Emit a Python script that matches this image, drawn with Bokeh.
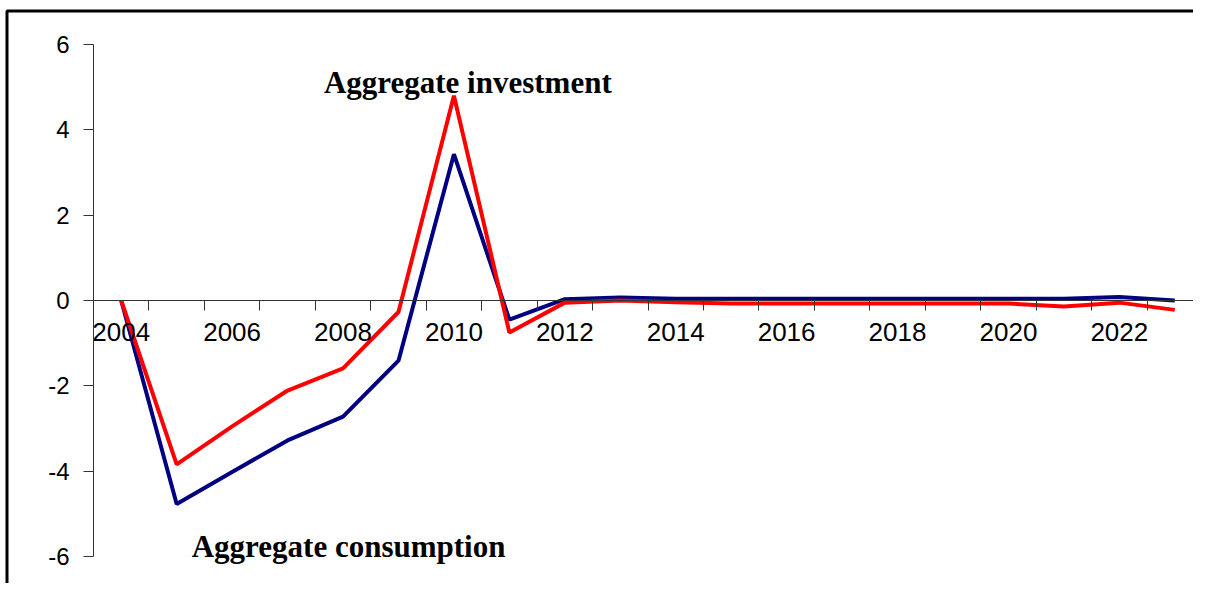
from bokeh.plotting import figure
from bokeh.models import Range1d, LinearAxis, FixedTicker, Label, BoxAnnotation, CustomJSTickFormatter
from bokeh.embed import file_html
from bokeh.resources import INLINE

# ---- data ----
years = list(range(2004, 2024))
investment = [0.0, -3.84, -2.95, -2.11, -1.59, -0.27, 4.80, -0.75, -0.05, 0.0,
              -0.04, -0.07, -0.07, -0.07, -0.07, -0.07, -0.07, -0.14, -0.05, -0.22]
consumption = [0.0, -4.77, -4.02, -3.28, -2.72, -1.41, 3.43, -0.45, 0.03, 0.07,
               0.04, 0.04, 0.04, 0.04, 0.04, 0.04, 0.04, 0.04, 0.08, 0.0]
y_ticks = [-6, -4, -2, 0, 2, 4, 6]
x_label_years = [2004, 2006, 2008, 2010, 2012, 2014, 2016, 2018, 2020, 2022]
series_names = ["Aggregate investment", "Aggregate consumption"]

# ---- layout (pixels, relative to the figure's top-left corner) ----
W, H = 1193, 583
AX_L, AX_R, AX_T, AX_B = 93, 1202, 44, 556      # extent of the axes
x_lo, x_hi = years[0] - 0.5, years[-1] + 0.5
y_lo, y_hi = y_ticks[0], y_ticks[-1]
px_x = (AX_R - AX_L) / (x_hi - x_lo)
px_y = (AX_B - AX_T) / (y_hi - y_lo)
x_start = x_lo - AX_L / px_x
x_end = x_start + W / px_x
y_end = y_hi + AX_T / px_y
y_start = y_end - H / px_y

x_boundaries = [y - 0.5 for y in years] + [years[-1] + 0.5]

p = figure(width=W, height=H, output_backend="svg", toolbar_location=None,
           x_range=Range1d(x_start, x_end), y_range=Range1d(y_start, y_end),
           x_axis_location=None, y_axis_location=None,
           min_border=0, min_border_left=0, min_border_right=0,
           min_border_top=0, min_border_bottom=0)
p.outline_line_color = None
p.background_fill_color = "white"
p.border_fill_color = "white"
p.grid.visible = False

tick_fmt = CustomJSTickFormatter(code="return tick.toFixed(0);")

# y axis
yaxis = LinearAxis(ticker=FixedTicker(ticks=y_ticks), fixed_location=x_lo,
                   bounds=(y_lo, y_hi), formatter=tick_fmt)
yaxis.major_tick_out = 10
yaxis.major_tick_in = 0
yaxis.minor_tick_out = 0
yaxis.minor_tick_in = 0
yaxis.axis_line_color = "#333333"
yaxis.major_tick_line_color = "#333333"
yaxis.major_label_standoff = 14
yaxis.major_label_text_font = "Liberation Sans"
yaxis.major_label_text_font_size = "24px"
yaxis.major_label_text_color = "black"
p.add_layout(yaxis, "left")

# x axis: tick marks at year boundaries, crossing at y = 0
xaxis_ticks = LinearAxis(ticker=FixedTicker(ticks=x_boundaries), fixed_location=0,
                         bounds=(x_lo, x_hi))
xaxis_ticks.major_tick_out = 10
xaxis_ticks.major_tick_in = 0
xaxis_ticks.minor_tick_out = 0
xaxis_ticks.minor_tick_in = 0
xaxis_ticks.axis_line_color = "#333333"
xaxis_ticks.major_tick_line_color = "#333333"
xaxis_ticks.major_label_text_color = None
p.add_layout(xaxis_ticks, "below")

# x axis labels at category centres
xaxis_labels = LinearAxis(ticker=FixedTicker(ticks=x_label_years), fixed_location=0,
                          bounds=(x_lo, x_hi), formatter=tick_fmt)
xaxis_labels.axis_line_color = None
xaxis_labels.major_tick_line_color = None
xaxis_labels.minor_tick_line_color = None
xaxis_labels.major_label_standoff = 16
xaxis_labels.major_label_text_font = "Liberation Sans"
xaxis_labels.major_label_text_font_size = "26px"
xaxis_labels.major_label_text_color = "black"
p.add_layout(xaxis_labels, "below")

# outer chart box (its right and bottom edges lie outside the visible page)
p.add_layout(BoxAnnotation(left=x_start + 6.5 / px_x, top=y_end - 10.5 / px_y,
                           right=x_end + 20 / px_x, bottom=y_start - 20 / px_y,
                           fill_color=None, fill_alpha=0,
                           line_color="black", line_alpha=1.0, line_width=3))

p.line(years, consumption, line_color="#000080", line_width=4)
p.line(years, investment, line_color="#FF0000", line_width=4)

p.add_layout(Label(x=2010.25, y=5.11, text=series_names[0], text_align="center",
                   text_baseline="alphabetic", text_font="Liberation Serif",
                   text_font_style="bold", text_font_size="31px", text_color="black"))
p.add_layout(Label(x=2008.10, y=-5.77, text=series_names[1], text_align="center",
                   text_baseline="alphabetic", text_font="Liberation Serif",
                   text_font_style="bold", text_font_size="31px", text_color="black"))

open("out.html", "w").write(file_html(p, INLINE))
